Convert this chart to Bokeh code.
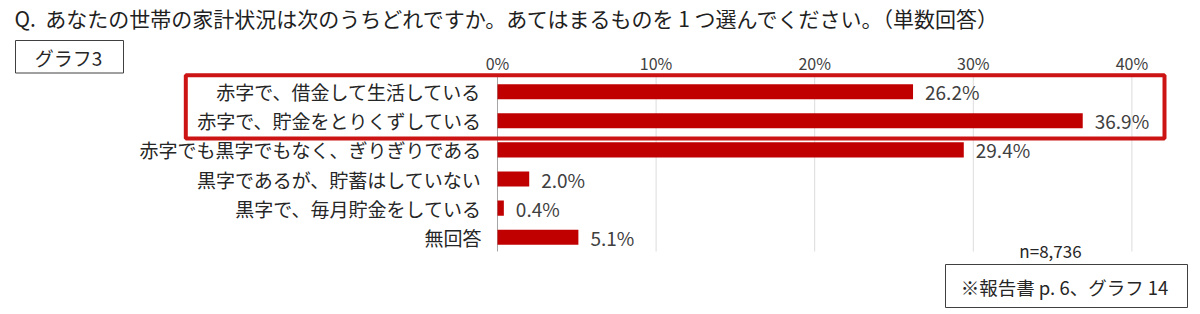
from bokeh.plotting import figure
from bokeh.models import Range1d
from bokeh.core.properties import value
from bokeh.embed import file_html
from bokeh.resources import INLINE

# ---- data ----
categories = [
    "赤字で、借金して生活している",
    "赤字で、貯金をとりくずしている",
    "赤字でも黒字でもなく、ぎりぎりである",
    "黒字であるが、貯蓄はしていない",
    "黒字で、毎月貯金をしている",
    "無回答",
]
values = [26.2, 36.9, 29.4, 2.0, 0.4, 5.1]
value_labels = ["26.2%", "36.9%", "29.4%", "2.0%", "0.4%", "5.1%"]
tick_values = [0, 10, 20, 30, 40]
tick_labels = ["0%", "10%", "20%", "30%", "40%"]
highlight_rows = [0, 1]
title_text = "Q.\u00a0\u00a0あなたの世帯の家計状況は次のうちどれですか。あてはまるものを 1 つ選んでください。（単数回答）"
graph_label = "グラフ3"
n_text = "n=8,736"
source_text = "※報告書 p. 6、グラフ 14"

# ---- layout constants (pixel geometry of the canvas) ----
W, H = 1200, 314
X0, SX = 497.0, 15.86   # pixel of 0%, pixels per 1%
Y0, SY = 91.2, 29.1     # pixel of first row centre, pixels per row


def dx(px):
    return (px - X0) / SX


def dy(py):
    return (py - Y0) / SY


FONT = value("Noto Sans CJK JP")
TXT = "#262626"
RED = "#c00000"

rows = list(range(len(categories)))

p = figure(width=W, height=H, output_backend="svg", toolbar_location=None,
           x_axis_type=None, y_axis_type=None,
           x_range=Range1d(dx(0), dx(W)), y_range=Range1d(dy(H), dy(0)),
           min_border=0, min_border_left=0, min_border_right=0,
           min_border_top=0, min_border_bottom=0)
p.outline_line_color = None
p.background_fill_color = "white"
p.border_fill_color = "white"

# grid lines and baseline
grid_top, grid_bot = dy(75), dy(251)
p.segment(x0=tick_values[1:], y0=[grid_top] * 4, x1=tick_values[1:], y1=[grid_bot] * 4,
          line_color="#dcdcdc", line_width=1)
p.segment(x0=[tick_values[0]], y0=[grid_top], x1=[tick_values[0]], y1=[grid_bot],
          line_color="#a6a6a6", line_width=1)

# bars
p.hbar(y=rows, left=0, right=values, height=0.52, fill_color=RED, line_color=None)

# value labels
p.text(x=values, y=rows, text=value_labels, x_offset=12, text_align="left",
       text_baseline="middle", text_font=FONT, text_font_size="19px", text_color="#404040")

# category labels
p.text(x=[0] * len(rows), y=rows, text=categories, x_offset=-16, text_align="right",
       text_baseline="middle", text_font=FONT, text_font_size="19px", text_color=TXT)

# tick labels (top)
p.text(x=tick_values, y=[dy(62)] * len(tick_values), text=tick_labels, text_align="center",
       text_baseline="middle", text_font=FONT, text_font_size="16px", text_color="#404040")

# highlight box around the first two rows
p.quad(left=[dx(185.3)], right=[dx(1164)],
       top=[highlight_rows[0] - 0.567], bottom=[highlight_rows[-1] + 0.61],
       fill_color=None, line_color="#cc1414", line_width=4)

# title
p.text(x=[dx(14)], y=[dy(17)], text=[title_text], text_align="left", text_baseline="middle",
       text_font=FONT, text_font_size="21px", text_color="#1f1f1f")

# graph label box
p.quad(left=[dx(15)], right=[dx(123)], top=[dy(40)], bottom=[dy(72.5)],
       fill_color=None, line_color="#404040", line_width=1)
p.text(x=[dx(68)], y=[dy(56.5)], text=[graph_label], text_align="center", text_baseline="middle",
       text_font=FONT, text_font_size="19px", text_color=TXT)

# n
p.text(x=[dx(1050)], y=[dy(250)], text=[n_text], text_align="center", text_baseline="middle",
       text_font=FONT, text_font_size="17px", text_color=TXT)

# source box
p.quad(left=[dx(945)], right=[dx(1187)], top=[dy(264)], bottom=[dy(307)],
       fill_color="white", line_color="#404040", line_width=1)
p.text(x=[dx(1064)], y=[dy(286)], text=[source_text], text_align="center", text_baseline="middle",
       text_font=FONT, text_font_size="18.5px", text_color=TXT)

open("out.html", "w").write(file_html(p, INLINE))
